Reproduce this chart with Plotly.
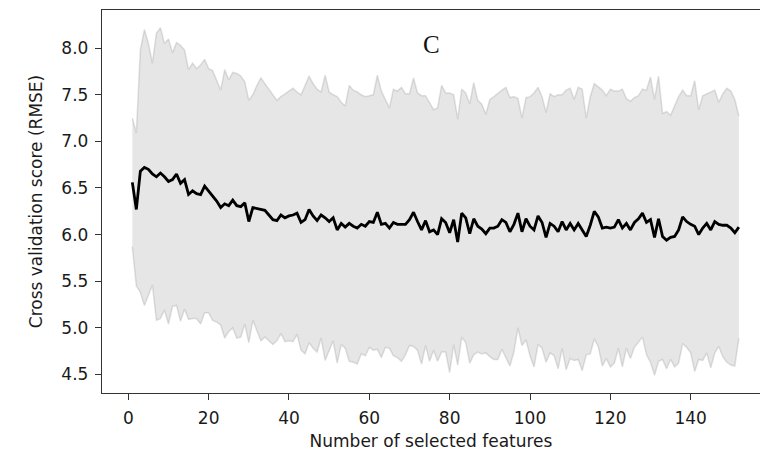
import plotly.graph_objects as go

n_features = list(range(1, 153))

cv_mean = [
    6.56, 6.27, 6.68, 6.72, 6.70, 6.65, 6.62, 6.66, 6.62, 6.57,
    6.59, 6.65, 6.55, 6.59, 6.43, 6.47, 6.44, 6.43, 6.52, 6.47,
    6.42, 6.36, 6.29, 6.33, 6.31, 6.37, 6.31, 6.30, 6.34, 6.14,
    6.29, 6.28, 6.27, 6.26, 6.21, 6.16, 6.15, 6.21, 6.18, 6.20,
    6.21, 6.23, 6.13, 6.16, 6.27, 6.20, 6.15, 6.21, 6.18, 6.14,
    6.18, 6.05, 6.12, 6.08, 6.12, 6.09, 6.07, 6.11, 6.09, 6.14,
    6.13, 6.24, 6.11, 6.12, 6.07, 6.13, 6.11, 6.11, 6.11, 6.16,
    6.24, 6.14, 6.05, 6.15, 6.03, 6.05, 6.00, 6.17, 6.13, 6.02,
    6.16, 5.92, 6.23, 6.18, 6.01, 6.17, 6.09, 6.06, 6.01, 6.07,
    6.07, 6.09, 6.16, 6.13, 6.03, 6.11, 6.23, 6.03, 6.17, 6.09,
    6.05, 6.20, 6.13, 5.97, 6.12, 6.09, 6.03, 6.14, 6.05, 6.12,
    6.05, 6.12, 6.05, 5.98, 6.10, 6.25, 6.19, 6.07, 6.08, 6.07,
    6.08, 6.16, 6.07, 6.12, 6.05, 6.13, 6.17, 6.23, 6.13, 6.16,
    5.97, 6.17, 5.98, 5.94, 5.97, 5.98, 6.05, 6.19, 6.14, 6.11,
    6.09, 6.00, 6.07, 6.12, 6.05, 6.14, 6.11, 6.10, 6.10, 6.07,
    6.02, 6.08,
]

cv_std = [
    0.69, 0.82, 1.30, 1.48, 1.35, 1.19, 1.54, 1.56, 1.43, 1.53,
    1.36, 1.41, 1.48, 1.39, 1.34, 1.37, 1.34, 1.39, 1.36, 1.31,
    1.34, 1.30, 1.26, 1.44, 1.35, 1.37, 1.42, 1.40, 1.30, 1.30,
    1.21, 1.32, 1.41, 1.36, 1.35, 1.34, 1.29, 1.27, 1.33, 1.34,
    1.36, 1.30, 1.37, 1.44, 1.43, 1.42, 1.41, 1.32, 1.53, 1.39,
    1.32, 1.43, 1.30, 1.30, 1.48, 1.46, 1.46, 1.39, 1.39, 1.35,
    1.37, 1.47, 1.43, 1.33, 1.29, 1.43, 1.43, 1.47, 1.40, 1.35,
    1.44, 1.38, 1.44, 1.34, 1.39, 1.29, 1.36, 1.43, 1.39, 1.50,
    1.34, 1.32, 1.33, 1.34, 1.39, 1.46, 1.35, 1.34, 1.28, 1.38,
    1.41, 1.43, 1.39, 1.45, 1.44, 1.37, 1.23, 1.22, 1.30, 1.39,
    1.47, 1.38, 1.35, 1.34, 1.39, 1.39, 1.47, 1.36, 1.50, 1.45,
    1.40, 1.46, 1.51, 1.27, 1.38, 1.37, 1.39, 1.48, 1.41, 1.49,
    1.46, 1.38, 1.49, 1.34, 1.38, 1.34, 1.32, 1.33, 1.42, 1.53,
    1.48, 1.53, 1.32, 1.38, 1.31, 1.40, 1.43, 1.36, 1.35, 1.38,
    1.56, 1.34, 1.42, 1.39, 1.48, 1.41, 1.31, 1.41, 1.47, 1.47,
    1.43, 1.19,
]

x_tick_vals = [0, 20, 40, 60, 80, 100, 120, 140]
y_tick_vals = [4.5, 5.0, 5.5, 6.0, 6.5, 7.0, 7.5, 8.0]

upper = [m + s for m, s in zip(cv_mean, cv_std)]
lower = [m - s for m, s in zip(cv_mean, cv_std)]

band_line = "rgba(128,128,128,0.24)"
band_fill = "rgba(128,128,128,0.2)"

fig = go.Figure()
fig.add_trace(go.Scatter(x=n_features, y=upper, mode="lines",
                         line=dict(color=band_line, width=1.5),
                         hoverinfo="skip", showlegend=False))
fig.add_trace(go.Scatter(x=n_features, y=lower, mode="lines",
                         line=dict(color=band_line, width=1.5),
                         fill="tonexty", fillcolor=band_fill,
                         hoverinfo="skip", showlegend=False))
fig.add_trace(go.Scatter(x=n_features, y=cv_mean, mode="lines",
                         line=dict(color="black", width=2.8),
                         showlegend=False))

axis_font = dict(family="DejaVu Sans", size=17, color="#1a1a1a")

fig.update_layout(
    width=760, height=452,
    margin=dict(l=102, r=0, t=10, b=59),
    paper_bgcolor="white", plot_bgcolor="white",
    font=axis_font,
    xaxis=dict(
        range=[-6.55, 157.26],
        tickmode="array", tickvals=x_tick_vals,
        ticks="outside", ticklen=6, tickwidth=1.3, tickcolor="#333333",
        ticklabelstandoff=3,
        showline=True, linecolor="#333333", linewidth=1.4, mirror=True,
        showgrid=False, zeroline=False,
        tickfont=axis_font,
        title=dict(text="Number of selected features", font=axis_font, standoff=8),
    ),
    yaxis=dict(
        range=[4.30, 8.41],
        tickmode="array", tickvals=y_tick_vals, tickformat=".1f",
        ticks="outside", ticklen=6, tickwidth=1.3, tickcolor="#333333",
        ticklabelstandoff=3,
        showline=True, linecolor="#333333", linewidth=1.4, mirror=False,
        showgrid=False, zeroline=False,
        tickfont=axis_font,
        title=dict(text="Cross validation score (RMSE)", font=axis_font, standoff=14),
    ),
    annotations=[dict(
        text="C", xref="paper", yref="paper", x=0.5, y=0.909,
        xanchor="center", yanchor="middle", showarrow=False,
        font=dict(family="Liberation Serif", size=25, color="#111111"),
    )],
)

fig.write_html("out.html")
